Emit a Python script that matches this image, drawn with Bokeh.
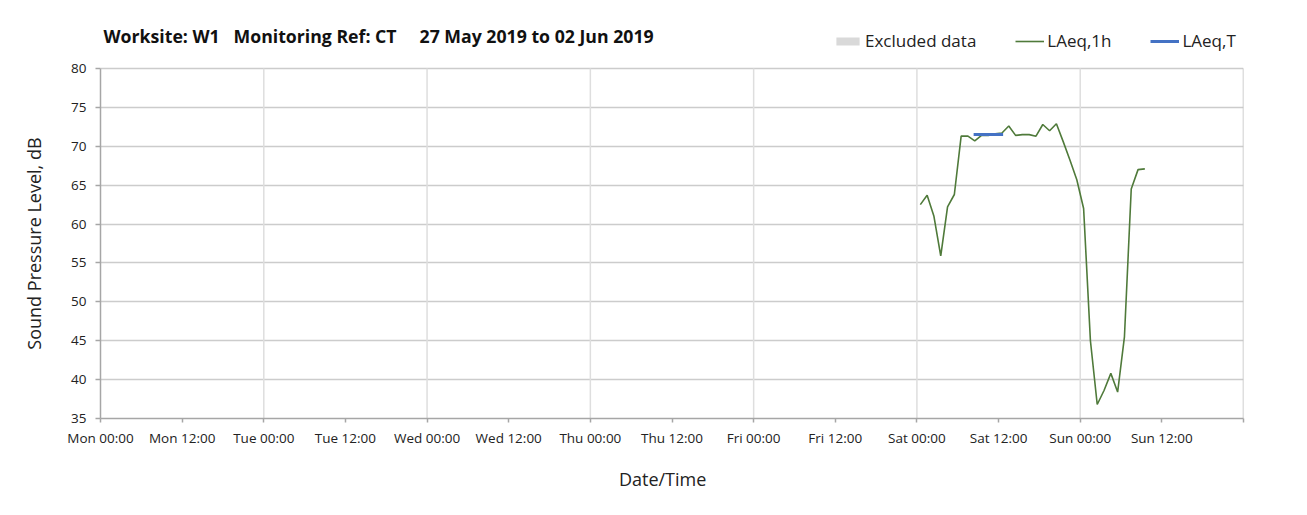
import math
import pandas as pd
from bokeh.plotting import figure
from bokeh.models import FixedTicker, Legend, LegendItem, ColumnDataSource, Range1d, Label
from bokeh.embed import file_html
from bokeh.resources import INLINE

# ---------------- data ----------------
title_text = ("Worksite: W1\u00a0\u00a0\u00a0Monitoring Ref: CT"
              "\u00a0\u00a0\u00a0\u00a0\u00a027 May 2019 to 02 Jun 2019")
x_label = "Date/Time"
y_label = "Sound Pressure Level, dB"
week_start = "2019-05-27 00:00"
week_end = "2019-06-03 00:00"

tick_times = [
    "2019-05-27 00:00", "2019-05-27 12:00", "2019-05-28 00:00", "2019-05-28 12:00",
    "2019-05-29 00:00", "2019-05-29 12:00", "2019-05-30 00:00", "2019-05-30 12:00",
    "2019-05-31 00:00", "2019-05-31 12:00", "2019-06-01 00:00", "2019-06-01 12:00",
    "2019-06-02 00:00", "2019-06-02 12:00", "2019-06-03 00:00",
]
tick_labels = [
    "Mon 00:00", "Mon 12:00", "Tue 00:00", "Tue 12:00", "Wed 00:00", "Wed 12:00",
    "Thu 00:00", "Thu 12:00", "Fri 00:00", "Fri 12:00", "Sat 00:00", "Sat 12:00",
    "Sun 00:00", "Sun 12:00", "",
]
day_lines = [
    "2019-05-28 00:00", "2019-05-29 00:00", "2019-05-30 00:00",
    "2019-05-31 00:00", "2019-06-01 00:00", "2019-06-02 00:00",
]
y_ticks = [35, 40, 45, 50, 55, 60, 65, 70, 75, 80]

# LAeq,1h hourly values starting Sat 01 Jun 2019 00:30
laeq_1h_start = "2019-06-01 00:30"
laeq_1h_values = [
    62.5, 63.7, 61.0, 55.9, 62.2, 63.8, 71.3, 71.3, 70.7, 71.4,
    71.4, 71.6, 71.7, 72.6, 71.4, 71.5, 71.5, 71.3, 72.8, 72.0,
    72.9, 70.6, 68.2, 65.7, 62.0, 45.0, 36.8, 38.6, 40.8, 38.4,
    45.5, 64.5, 67.0, 67.1,
]
# LAeq,T period
laeq_t_times = ["2019-06-01 08:20", "2019-06-01 12:40"]
laeq_t_values = [71.5, 71.5]
# Excluded data periods (none in this week)
excluded_start = []
excluded_end = []

# ---------------- layout constants ----------------
W, H = 1291, 499
FRAME_L, FRAME_R, FRAME_T, FRAME_B = 100, 1243, 12, 418   # frame in page px
AXIS_TOP_PX = 68                                          # where y=80 sits
FONT = "Open Sans"
NB = "\u00a0"

# ---------------- helpers ----------------
t0 = pd.Timestamp(week_start)


def hrs(ts):
    return (pd.Timestamp(ts) - t0) / pd.Timedelta(hours=1)


y_lo, y_hi = y_ticks[0], y_ticks[-1]
px_per_unit = (FRAME_B - AXIS_TOP_PX) / (y_hi - y_lo)
y_frame_top = y_hi + (AXIS_TOP_PX - FRAME_T) / px_per_unit  # headroom for title/legend

times_1h = pd.date_range(laeq_1h_start, periods=len(laeq_1h_values), freq="h")
src_1h = ColumnDataSource(dict(x=[hrs(t) for t in times_1h], y=laeq_1h_values))
src_t = ColumnDataSource(dict(x=[hrs(t) for t in laeq_t_times], y=laeq_t_values))

ex_left = [hrs(t) for t in excluded_start]
ex_right = [hrs(t) for t in excluded_end]
if not ex_left:  # nothing excluded: an empty (NaN) row keeps the legend swatch
    ex_left, ex_right = [math.nan], [math.nan]
src_ex = ColumnDataSource(dict(left=ex_left, right=ex_right,
                               bottom=[y_lo] * len(ex_left),
                               top=[y_hi] * len(ex_left)))
src_days = ColumnDataSource(dict(x=[hrs(t) for t in day_lines],
                                 y0=[y_lo] * len(day_lines),
                                 y1=[y_hi] * len(day_lines)))
src_edge = ColumnDataSource(dict(x=[hrs(week_end)], y0=[y_lo], y1=[y_hi]))

p = figure(width=W, height=H, output_backend="svg", toolbar_location=None,
           x_range=Range1d(hrs(week_start), hrs(week_end)),
           y_range=Range1d(y_lo, y_frame_top),
           min_border_left=FRAME_L, min_border_right=W - FRAME_R,
           min_border_top=FRAME_T, min_border_bottom=H - FRAME_B)
p.title = None
p.background_fill_color = "white"
p.border_fill_color = "white"
p.outline_line_color = None

# day grid lines and right border of the plot area
p.segment(x0="x", y0="y0", x1="x", y1="y1", source=src_days,
          line_color="#dedede", line_width=1.5)
p.segment(x0="x", y0="y0", x1="x", y1="y1", source=src_edge,
          line_color="#bfbfbf", line_width=1.5)

# excluded data
r_ex = p.quad(left="left", right="right", bottom="bottom", top="top", source=src_ex,
              fill_color="#d9d9d9", line_color=None)
# LAeq,1h
r1 = p.line("x", "y", source=src_1h, line_color="#4f7a3a", line_width=1.6)
# LAeq,T
rt = p.line("x", "y", source=src_t, line_color="#4472c4", line_width=3)

# axes
xt = [hrs(t) for t in tick_times]
p.xaxis.ticker = FixedTicker(ticks=xt)
p.xaxis.major_label_overrides = {v: lab for v, lab in zip(xt, tick_labels)}
p.xaxis.minor_tick_line_color = None
p.xaxis.major_tick_in = 0
p.xaxis.major_tick_out = 4
p.xaxis.axis_label = x_label + NB * 4          # nudges the centred label left

p.yaxis.ticker = FixedTicker(ticks=y_ticks)
p.yaxis.bounds = (y_lo, y_hi)
p.yaxis.minor_tick_line_color = None
p.yaxis.major_tick_in = 0
p.yaxis.major_tick_out = 5
p.yaxis.axis_label = y_label + NB * 12         # centres the label on the 35-80 axis

for ax in (p.xaxis[0], p.yaxis[0]):
    ax.axis_line_color = "#a6a6a6"
    ax.axis_line_width = 1.5
    ax.major_tick_line_color = "#a6a6a6"
    ax.major_tick_line_width = 1.5
    ax.major_label_text_font = FONT
    ax.major_label_text_font_size = "13.5px"
    ax.major_label_text_color = "#222222"
    ax.axis_label_text_font = FONT
    ax.axis_label_text_font_size = "18px"
    ax.axis_label_text_font_style = "normal"
    ax.axis_label_text_color = "#222222"

p.xaxis.major_label_standoff = 6
p.xaxis.axis_label_standoff = 17
p.yaxis.major_label_standoff = 9
p.yaxis.axis_label_standoff = 22

# grids
p.xgrid.visible = False
p.ygrid.ticker = FixedTicker(ticks=y_ticks)
p.ygrid.grid_line_color = "#cccccc"
p.ygrid.grid_line_width = 1.5

# title (inside the header strip of the frame)
p.add_layout(Label(x=3, y=FRAME_B - 35, x_units="screen", y_units="screen",
                   text=title_text, text_font=FONT, text_font_size="17.7px",
                   text_font_style="bold", text_color="#111111",
                   text_baseline="middle", text_align="left"))

# legend
legend = Legend(items=[LegendItem(label="Excluded data", renderers=[r_ex]),
                       LegendItem(label="LAeq,1h", renderers=[r1]),
                       LegendItem(label="LAeq,T", renderers=[rt])],
                orientation="horizontal", location=(733, FRAME_B - 52),
                glyph_width=29, glyph_height=10, label_standoff=3, spacing=39,
                padding=0, margin=0, border_line_color=None,
                background_fill_alpha=0,
                label_text_font=FONT, label_text_font_size="17px",
                label_text_color="#222222")
p.add_layout(legend, "center")

open("out.html", "w").write(file_html(p, INLINE))
